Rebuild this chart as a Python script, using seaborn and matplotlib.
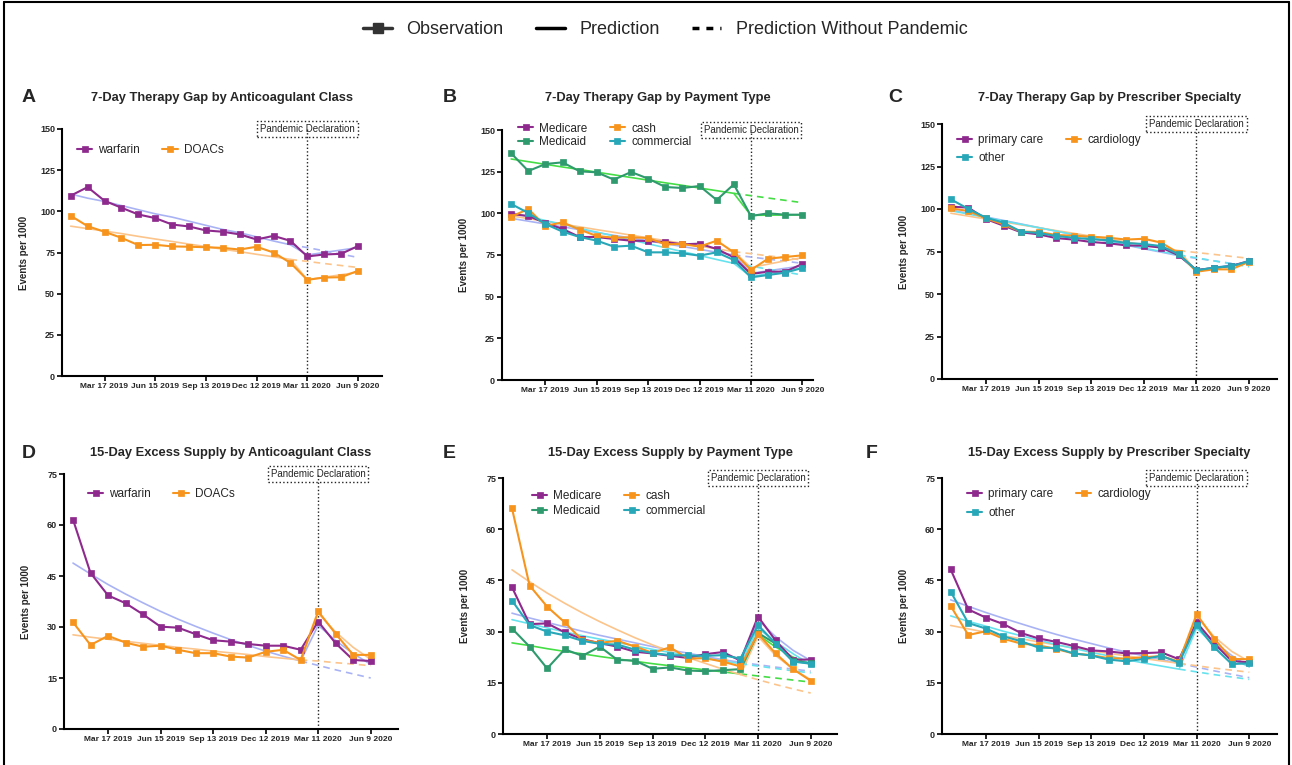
import matplotlib
matplotlib.use('Agg')
import matplotlib.pyplot as plt
from matplotlib.lines import Line2D
import seaborn as sns
import pandas as pd

# monthly (30-day) observation dates
dates = pd.to_datetime([
    '2019-01-16', '2019-02-15', '2019-03-17', '2019-04-16', '2019-05-16', '2019-06-15',
    '2019-07-15', '2019-08-14', '2019-09-13', '2019-10-13', '2019-11-12', '2019-12-12',
    '2020-01-11', '2020-02-10', '2020-03-11', '2020-04-10', '2020-05-10', '2020-06-09'])
tick_labels = ['Mar 17 2019', 'Jun 15 2019', 'Sep 13 2019', 'Dec 12 2019', 'Mar 11 2020', 'Jun 9 2020']
pandemic_date = pd.Timestamp('2020-03-11')

# ---- A: 7-day gap by anticoagulant class
A_warf_obs = [109.5, 114.7, 106.4, 102.2, 98.1, 95.9, 92.0, 90.8, 88.4, 87.6, 86.0, 82.9, 85.1, 82.1, 72.6, 73.8, 74.2, 78.9]
A_warf_pred = [110.5, 108.0, 106.0, 103.5, 101.0, 98.5, 96.5, 94.0, 91.5, 89.0, 87.0, 84.5, 82.0, 79.7, 73.5, 75.0, 76.5, 78.0]
A_warf_cf = [79.7, 78.0, 76.0, 74.0, 72.0]
A_doac_obs = [97.3, 91.0, 87.6, 83.9, 79.5, 79.7, 78.7, 78.5, 78.2, 77.8, 76.8, 78.5, 75.0, 68.7, 58.4, 59.8, 60.0, 63.9]
A_doac_pred = [91.0, 89.5, 88.0, 86.5, 84.8, 83.2, 81.7, 80.1, 78.6, 77.0, 75.5, 73.9, 72.4, 70.8, 58.5, 60.0, 61.5, 63.0]
A_doac_cf = [70.8, 69.6, 68.3, 67.1, 65.9]

# ---- B: 7-day gap by payment type
B_mcare_obs = [99.6, 98.4, 94.2, 90.6, 85.8, 85.8, 84.6, 83.6, 83.4, 82.8, 81.4, 81.8, 78.6, 73.6, 63.6, 65.0, 65.0, 69.6]
B_mcare_pred = [97.0, 95.3, 93.6, 91.9, 90.2, 88.5, 86.8, 85.2, 83.5, 81.8, 80.1, 78.4, 76.7, 75.0, 64.0, 65.5, 67.0, 68.5]
B_mcare_cf = [75.0, 73.8, 72.5, 71.3, 70.0]
B_mcaid_obs = [136.0, 125.4, 129.6, 130.6, 125.2, 124.6, 120.2, 124.8, 120.8, 115.8, 115.2, 116.4, 108.0, 117.4, 98.4, 100.0, 99.2, 99.2]
B_mcaid_pred = [132.6, 131.0, 129.4, 127.8, 126.3, 124.7, 123.1, 121.5, 119.9, 118.3, 116.8, 115.2, 113.6, 112.0, 98.8, 98.9, 99.0, 99.1]
B_mcaid_cf = [112.0, 110.6, 109.2, 107.8, 106.4]
B_cash_obs = [98.0, 102.6, 92.4, 94.6, 90.2, 86.4, 85.4, 85.6, 85.2, 81.4, 81.6, 80.0, 83.6, 76.6, 66.0, 72.8, 73.8, 74.8]
B_cash_pred = [98.5, 96.8, 95.2, 93.5, 91.9, 90.2, 88.6, 86.9, 85.3, 83.6, 82.0, 80.3, 78.7, 77.0, 67.5, 69.5, 71.5, 73.5]
B_cash_cf = [77.0, 75.8, 74.5, 73.3, 72.0]
B_comm_obs = [105.6, 100.2, 93.6, 89.0, 85.8, 83.6, 80.0, 80.6, 76.6, 76.6, 76.0, 74.6, 76.6, 72.0, 61.6, 63.0, 64.4, 67.2]
B_comm_pred = [100.4, 98.1, 95.7, 93.4, 91.0, 88.7, 86.4, 84.0, 81.7, 79.4, 77.0, 74.7, 72.3, 70.0, 62.0, 63.8, 65.6, 67.4]
B_comm_cf = [70.0, 68.3, 66.5, 64.8, 63.0]

# ---- C: 7-day gap by prescriber specialty
C_pc_obs = [101.4, 100.8, 94.1, 90.2, 86.3, 85.1, 82.9, 82.0, 80.6, 79.8, 78.6, 78.4, 77.3, 72.7, 64.1, 65.3, 66.5, 69.4]
C_pc_pred = [99.5, 97.4, 95.3, 93.3, 91.2, 89.1, 87.0, 84.9, 82.9, 80.8, 78.7, 76.6, 74.6, 72.5, 64.0, 65.5, 67.0, 68.5]
C_pc_cf = [72.5, 71.0, 69.5, 68.0, 66.5]
C_card_obs = [100.4, 98.8, 94.5, 91.0, 86.7, 86.5, 84.7, 84.3, 83.7, 83.1, 82.0, 82.5, 80.2, 73.9, 63.1, 64.5, 64.5, 69.0]
C_card_pred = [97.5, 95.8, 94.1, 92.4, 90.7, 89.0, 87.3, 85.7, 84.0, 82.3, 80.6, 78.9, 77.2, 75.5, 63.5, 65.0, 66.5, 68.5]
C_card_cf = [75.5, 74.4, 73.3, 72.1, 71.0]
C_oth_obs = [105.7, 100.0, 94.9, 92.0, 86.7, 85.9, 84.1, 83.1, 82.2, 81.6, 80.0, 79.4, 78.2, 73.3, 63.9, 65.5, 66.3, 69.4]
C_oth_pred = [99.0, 97.0, 95.0, 93.0, 91.0, 89.0, 87.0, 85.0, 83.0, 81.0, 79.0, 77.0, 75.0, 73.0, 64.0, 65.5, 67.0, 68.5]
C_oth_cf = [73.0, 71.3, 69.5, 67.8, 66.0]

# ---- D: 15-day excess supply by anticoagulant class
D_warf_obs = [61.6, 45.9, 39.3, 37.0, 33.7, 30.1, 29.8, 27.9, 26.1, 25.7, 25.0, 24.5, 24.5, 23.3, 31.6, 25.2, 20.3, 20.0]
D_warf_pred = [48.8, 45.6, 42.5, 39.7, 37.1, 34.6, 32.3, 30.2, 28.2, 26.3, 24.6, 22.9, 21.4, 20.0, 30.5, 26.0, 22.2, 19.0]
D_warf_cf = [20.0, 18.7, 17.4, 16.2, 15.0]
D_doac_obs = [31.4, 24.7, 27.4, 25.4, 24.2, 24.5, 23.3, 22.3, 22.3, 21.3, 21.0, 22.7, 23.3, 20.3, 34.6, 28.0, 21.8, 21.8]
D_doac_pred = [27.7, 27.0, 26.4, 25.8, 25.2, 24.6, 24.0, 23.5, 22.9, 22.4, 21.9, 21.3, 20.8, 20.3, 34.0, 28.5, 24.0, 20.5]
D_doac_cf = [20.3, 20.0, 19.5, 19.1, 18.6]

# ---- E: 15-day excess supply by payment type
E_mcare_obs = [43.0, 32.2, 32.4, 29.8, 27.8, 26.6, 25.6, 24.1, 23.6, 22.9, 22.3, 23.4, 24.0, 21.5, 34.4, 27.4, 21.8, 21.8]
E_mcare_pred = [35.4, 34.0, 32.7, 31.4, 30.1, 28.9, 27.8, 26.7, 25.6, 24.6, 23.7, 22.7, 21.8, 21.0, 33.5, 28.5, 24.5, 21.5]
E_mcare_cf = [21.0, 20.3, 19.6, 19.0, 18.4]
E_mcaid_obs = [30.9, 25.6, 19.2, 24.8, 22.9, 25.6, 21.7, 21.5, 19.1, 19.5, 18.6, 18.4, 18.7, 19.0, 29.6, 26.5, 21.3, 20.8]
E_mcaid_pred = [26.7, 25.9, 25.0, 24.2, 23.5, 22.7, 22.0, 21.3, 20.6, 20.0, 19.4, 18.8, 18.2, 17.6, 29.1, 25.5, 22.5, 20.3]
E_mcaid_cf = [17.6, 17.0, 16.4, 15.8, 15.2]
E_cash_obs = [66.1, 43.5, 37.3, 32.7, 27.5, 26.7, 27.3, 25.6, 23.8, 25.4, 22.1, 22.2, 21.2, 19.8, 29.4, 23.6, 19.0, 15.6]
E_cash_pred = [48.1, 44.6, 41.3, 38.3, 35.5, 32.9, 30.5, 28.2, 26.1, 24.2, 22.4, 20.7, 19.0, 17.4, 28.6, 23.0, 19.0, 15.9]
E_cash_cf = [17.4, 15.9, 14.5, 13.2, 12.0]
E_comm_obs = [39.1, 31.9, 30.0, 28.9, 27.3, 26.4, 26.2, 24.7, 23.7, 23.1, 23.0, 22.9, 23.1, 22.1, 31.9, 26.5, 21.2, 20.6]
E_comm_pred = [33.5, 32.3, 31.1, 29.9, 28.8, 27.8, 26.8, 25.8, 24.8, 23.9, 23.0, 22.2, 21.4, 20.6, 31.0, 27.0, 23.5, 20.3]
E_comm_cf = [20.6, 19.9, 19.2, 18.5, 17.9]

# ---- F: 15-day excess supply by prescriber specialty
F_pc_obs = [48.2, 36.5, 34.1, 32.2, 29.6, 28.0, 27.0, 25.8, 24.5, 24.2, 23.6, 23.7, 23.9, 21.9, 32.7, 26.6, 21.4, 21.0]
F_pc_pred = [39.3, 37.4, 35.6, 33.9, 32.3, 30.7, 29.2, 27.8, 26.5, 25.2, 24.0, 22.9, 21.8, 20.7, 32.0, 27.0, 23.0, 19.7]
F_pc_cf = [20.7, 19.6, 18.5, 17.5, 16.5]
F_card_obs = [37.5, 29.0, 30.1, 27.9, 26.5, 26.0, 24.9, 23.6, 23.1, 22.2, 22.1, 22.5, 22.8, 21.2, 35.1, 27.9, 22.0, 21.9]
F_card_pred = [31.8, 30.8, 29.8, 28.8, 27.9, 27.0, 26.1, 25.2, 24.4, 23.6, 22.9, 22.1, 21.4, 20.7, 34.4, 28.5, 24.2, 21.2]
F_card_cf = [20.7, 20.0, 19.3, 18.7, 18.1]
F_oth_obs = [41.7, 32.5, 30.9, 28.6, 27.2, 25.3, 25.2, 23.6, 23.0, 21.8, 21.3, 22.0, 22.9, 20.9, 32.0, 25.4, 20.5, 20.7]
F_oth_pred = [34.6, 33.0, 31.6, 30.1, 28.8, 27.5, 26.2, 25.1, 23.9, 22.9, 21.8, 20.8, 19.9, 19.0, 31.0, 26.0, 22.0, 19.7]
F_oth_cf = [19.0, 18.2, 17.4, 16.7, 16.0]

# colours
PURPLE, ORANGE, GREEN, TEAL = '#8E2A8E', '#F7941D', '#2E9A6E', '#27A7B7'
P_PURPLE, P_ORANGE, P_GREEN, P_TEAL = '#A9B3F4', '#FCC48A', '#45DD45', '#66E2EE'

sns.set_style('ticks')
plt.rcParams['font.family'] = ['Liberation Sans', 'DejaVu Sans']

W, H = 1292, 765
fig = plt.figure(figsize=(W / 100, H / 100), dpi=100)


def draw_panel(px, series, order, ymax, yticks, title, letter, leg):
    l, r, t, b = px['left'], px['right'], px['top'], px['bottom']
    ax = fig.add_axes([l / W, 1 - b / H, (r - l) / W, (b - t) / H])
    for label, obs, pred, cf, oc, pc in series:
        sns.lineplot(x=dates, y=pred, ax=ax, color=pc, lw=1.2, zorder=2, label='_nolegend_')
        sns.lineplot(x=dates[13:], y=cf, ax=ax, color=pc, lw=1.2, zorder=2,
                     linestyle=(0, (4, 3)), label='_nolegend_')
    for label, obs, pred, cf, oc, pc in series:
        sns.lineplot(x=dates, y=obs, ax=ax, color=oc, lw=1.5, marker='s', markersize=4,
                     markeredgecolor=oc, markeredgewidth=0.5, zorder=3, label=label)

    ax.axvline(pandemic_date, color='#222222', lw=1, ls=(0, (1, 1.6)), zorder=1)
    ax.text(pandemic_date, ymax, 'Pandemic Declaration', ha='center', va='center', fontsize=7,
            bbox=dict(boxstyle='square,pad=0.3', fc='none', ec='#222222', ls=':', lw=1),
            clip_on=False, zorder=4)

    dpp = (dates[-1] - dates[0]).days / (px['t17'] - px['t0'])
    ax.set_xlim(dates[0] - pd.Timedelta(days=(px['t0'] - l) * dpp),
                dates[-1] + pd.Timedelta(days=(r - px['t17']) * dpp))
    ax.set_ylim(0, ymax)
    ax.set_yticks(yticks)
    ax.set_xticks(dates[2::3])
    ax.set_xticklabels(tick_labels)
    ax.tick_params(axis='both', width=1.2, length=3.5, pad=1.5, color='black')
    ax.tick_params(axis='x', labelsize=6.0)
    ax.tick_params(axis='y', labelsize=6.5)
    for lab in ax.get_xticklabels() + ax.get_yticklabels():
        lab.set_fontweight('bold')
    sns.despine(ax=ax)
    for s in ('left', 'bottom'):
        ax.spines[s].set_linewidth(1.5)
        ax.spines[s].set_color('black')
    ax.set_xlabel('')
    ax.set_ylabel('Events per 1000', fontsize=7, fontweight='bold')
    ax.yaxis.set_label_coords(-33 / (r - l), 0.5)

    handles, labels = ax.get_legend_handles_labels()
    hmap = dict(zip(labels, handles))
    ax.legend([hmap[k] for k in order], order, loc='upper left', bbox_to_anchor=leg['anchor'],
              ncol=2, frameon=False, fontsize=8.5, handlelength=1.3, handletextpad=0.5,
              columnspacing=1.9, labelspacing=leg['spacing'], borderaxespad=0, borderpad=0)

    fig.text((l + r) / 2 / W, 1 - px['title_y'] / H, title, ha='center', va='center',
             fontsize=9.3, fontweight='bold')
    fig.text(px['letter_x'] / W, 1 - px['title_y'] / H, letter, ha='left', va='center',
             fontsize=14, fontweight='bold')
    return ax


draw_panel(dict(left=62, right=382, top=129, bottom=376, t0=70.7, t17=358.0, title_y=98, letter_x=22),
           [('warfarin', A_warf_obs, A_warf_pred, A_warf_cf, PURPLE, P_PURPLE),
            ('DOACs', A_doac_obs, A_doac_pred, A_doac_cf, ORANGE, P_ORANGE)],
           ['warfarin', 'DOACs'], 150, range(0, 151, 25),
           '7-Day Therapy Gap by Anticoagulant Class', 'A',
           dict(anchor=(0.047, 0.94), spacing=0.3))

draw_panel(dict(left=502, right=813, top=130, bottom=380, t0=511.2, t17=802.3, title_y=98, letter_x=443),
           [('Medicare', B_mcare_obs, B_mcare_pred, B_mcare_cf, PURPLE, P_PURPLE),
            ('Medicaid', B_mcaid_obs, B_mcaid_pred, B_mcaid_cf, GREEN, P_GREEN),
            ('cash', B_cash_obs, B_cash_pred, B_cash_cf, ORANGE, P_ORANGE),
            ('commercial', B_comm_obs, B_comm_pred, B_comm_cf, TEAL, P_TEAL)],
           ['Medicare', 'Medicaid', 'cash', 'commercial'], 150, range(0, 151, 25),
           '7-Day Therapy Gap by Payment Type', 'B',
           dict(anchor=(0.051, 1.03), spacing=0.1))

draw_panel(dict(left=942, right=1277, top=124, bottom=379, t0=950.9, t17=1249.0, title_y=98, letter_x=888),
           [('primary care', C_pc_obs, C_pc_pred, C_pc_cf, PURPLE, P_PURPLE),
            ('cardiology', C_card_obs, C_card_pred, C_card_cf, ORANGE, P_ORANGE),
            ('other', C_oth_obs, C_oth_pred, C_oth_cf, TEAL, P_TEAL)],
           ['primary care', 'other', 'cardiology'], 150, range(0, 151, 25),
           '7-Day Therapy Gap by Prescriber Specialty', 'C',
           dict(anchor=(0.045, 0.96), spacing=0.5))

draw_panel(dict(left=64, right=398, top=474, bottom=729, t0=73.0, t17=370.7, title_y=453, letter_x=22),
           [('warfarin', D_warf_obs, D_warf_pred, D_warf_cf, PURPLE, P_PURPLE),
            ('DOACs', D_doac_obs, D_doac_pred, D_doac_cf, ORANGE, P_ORANGE)],
           ['warfarin', 'DOACs'], 75, range(0, 76, 15),
           '15-Day Excess Supply by Anticoagulant Class', 'D',
           dict(anchor=(0.072, 0.945), spacing=0.3))

draw_panel(dict(left=503, right=837, top=478, bottom=734, t0=512.0, t17=810.7, title_y=453, letter_x=443),
           [('Medicare', E_mcare_obs, E_mcare_pred, E_mcare_cf, PURPLE, P_PURPLE),
            ('Medicaid', E_mcaid_obs, E_mcaid_pred, E_mcaid_cf, GREEN, P_GREEN),
            ('cash', E_cash_obs, E_cash_pred, E_cash_cf, ORANGE, P_ORANGE),
            ('commercial', E_comm_obs, E_comm_pred, E_comm_cf, TEAL, P_TEAL)],
           ['Medicare', 'Medicaid', 'cash', 'commercial'], 75, range(0, 76, 15),
           '15-Day Excess Supply by Payment Type', 'E',
           dict(anchor=(0.087, 0.953), spacing=0.25))

draw_panel(dict(left=942, right=1277, top=478, bottom=734, t0=950.7, t17=1249.3, title_y=453, letter_x=866),
           [('primary care', F_pc_obs, F_pc_pred, F_pc_cf, PURPLE, P_PURPLE),
            ('cardiology', F_card_obs, F_card_pred, F_card_cf, ORANGE, P_ORANGE),
            ('other', F_oth_obs, F_oth_pred, F_oth_cf, TEAL, P_TEAL)],
           ['primary care', 'other', 'cardiology'], 75, range(0, 76, 15),
           '15-Day Excess Supply by Prescriber Specialty', 'F',
           dict(anchor=(0.075, 0.96), spacing=0.55))

# shared legend at the top
top_handles = [
    Line2D([], [], color='#333333', lw=2.5, marker='s', markersize=7),
    Line2D([], [], color='black', lw=2.5),
    Line2D([], [], color='black', lw=2.5, ls=(0, (2, 2))),
]
fig.legend(top_handles, ['Observation', 'Prediction', 'Prediction Without Pandemic'],
           loc='center', bbox_to_anchor=(0.515, 0.961), ncol=3, frameon=False, fontsize=13,
           handlelength=1.6, handletextpad=0.8, columnspacing=1.8)

# outer frame
for xs, ys in [([4 / W, 1289 / W], [1 - 1.5 / H] * 2),
               ([4 / W] * 2, [0, 1 - 1.5 / H]),
               ([1289 / W] * 2, [0, 1 - 1.5 / H])]:
    fig.add_artist(Line2D(xs, ys, color='black', lw=1.5))

fig.savefig('out.png', dpi=100)
